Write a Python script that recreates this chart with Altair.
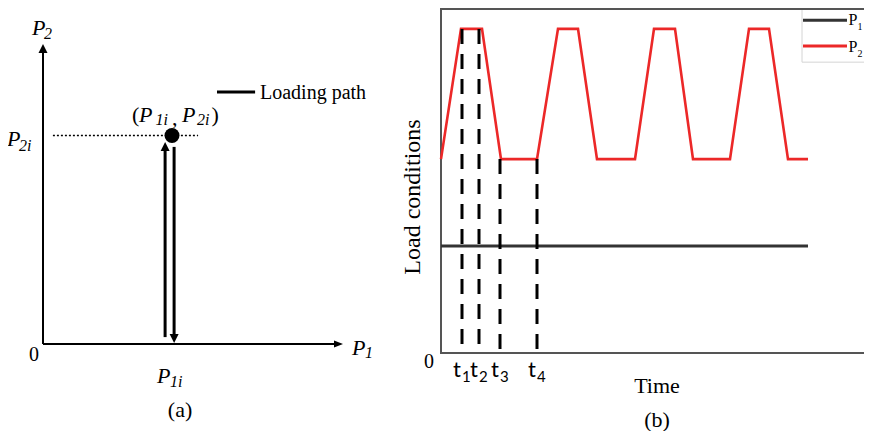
import altair as alt
import pandas as pd

# ---------------- panel (a): loading path in the P1-P2 plane ----------------
AXIS_END = 10.0            # arrow tips of both axes
P1I = 4.30                 # point (P1i, P2i)
P2I = 6.95
UP_X, UP_FROM, UP_TIP = 4.07, 0.23, 6.73      # upward loading arrow
DOWN_X, DOWN_FROM, DOWN_TIP = 4.37, 6.57, 0.03  # downward unloading arrow
GUIDE_FROM, GUIDE_TO = 0.33, 5.17              # dotted guide at P2i
LEG_A_FROM, LEG_A_TO, LEG_A_Y = 5.80, 7.07, 8.40

# ---------------- panel (b): load conditions over time ----------------
T_P2 = [0, 2.0, 4.1, 6.0, 9.6, 11.7, 13.7, 15.6, 19.4, 21.3, 23.4, 25.2, 28.9, 30.8, 32.8, 34.7, 36.7]
V_P2 = [5.54, 9.26, 9.26, 5.54, 5.54, 9.26, 9.26, 5.54, 5.54, 9.26, 9.26, 5.54, 5.54, 9.26, 9.26, 5.54, 5.54]
T_P1 = [0, 36.7]
V_P1 = [3.06, 3.06]
T_MARK = [2.1, 3.8, 5.9, 9.6]
T_MARK_TOP = [9.26, 9.26, 5.54, 5.54]
T_NAMES = ["1", "2", "3", "4"]
FRAME_TOP = 9.83
FRAME_RIGHT = 45.0
SERIES = ["P", "P"]
SERIES_SUB = ["1", "2"]
SERIES_COL = ["#333333", "#ec2828"]
LEG_B_FROM, LEG_B_TO = 36.2, 40.6
LEG_B_Y = [9.51, 8.77]
LEG_BOX = [36.1, 45.0, 8.31, 9.83]

W, H = 856, 423
XA_DOM = [-1.1667, 27.367]
YA_DOM = [-2.9, 11.2]
XB_DOM = [-43.3, 42.3]
YB_DOM = [-2.229, 9.857]

SERIF = "Liberation Serif"


def sc(dom):
    return alt.Scale(domain=dom, nice=False, zero=False, padding=0)


def XA(f):
    return alt.X(f, type="quantitative", scale=sc(XA_DOM), axis=None)


def YA(f):
    return alt.Y(f, type="quantitative", scale=sc(YA_DOM), axis=None)


def XB(f):
    return alt.X(f, type="quantitative", scale=sc(XB_DOM), axis=None)


def YB(f):
    return alt.Y(f, type="quantitative", scale=sc(YB_DOM), axis=None)


def text_layer(rows, X, Y, size, style="normal", align="left", font=SERIF,
               angle=None, dx=None, baseline="middle"):
    df = pd.DataFrame(rows, columns=["x", "y", "text"])
    mk = dict(font=font, fontSize=size, fontStyle=style, align=align,
              baseline=baseline, color="black")
    if angle is not None:
        mk["angle"] = angle
    if dx is not None:
        mk["dx"] = dx
    return alt.Chart(df).mark_text(**mk).encode(x=X("x"), y=Y("y"), text="text:N")


def vrule(X, Y, x, y1, y2, width, color="black", dash=None):
    df = pd.DataFrame({"x": [x], "y": [y1], "y2": [y2]})
    mk = dict(color=color, strokeWidth=width)
    if dash:
        mk["strokeDash"] = dash
    return alt.Chart(df).mark_rule(**mk).encode(x=X("x"), y=Y("y"), y2="y2")


def hrule(X, Y, x1, x2, y, width, color="black", dash=None):
    df = pd.DataFrame({"x": [x1], "x2": [x2], "y": [y]})
    mk = dict(color=color, strokeWidth=width)
    if dash:
        mk["strokeDash"] = dash
    return alt.Chart(df).mark_rule(**mk).encode(x=X("x"), x2="x2", y=Y("y"))


def head(X, Y, x, y, path, size=324):
    df = pd.DataFrame({"x": [x], "y": [y]})
    return alt.Chart(df).mark_point(shape=path, filled=True, size=size, color="black",
                                    opacity=1, strokeWidth=0).encode(x=X("x"), y=Y("y"))


UP = "M0,0L0.5,1L-0.5,1Z"
DOWN = "M0,0L0.5,-1L-0.5,-1Z"
RIGHT = "M0,0L-1,-0.4L-1,0.4Z"

layers = []

# ----- panel (a) -----
layers.append(vrule(XA, YA, 0, 0, AXIS_END - 0.17, 2))
layers.append(head(XA, YA, 0, AXIS_END, UP))
layers.append(hrule(XA, YA, 0, AXIS_END - 0.17, 0, 2))
layers.append(head(XA, YA, AXIS_END, 0, RIGHT))
layers.append(hrule(XA, YA, GUIDE_FROM, GUIDE_TO, P2I, 1.6, dash=[2, 2]))
layers.append(vrule(XA, YA, UP_X, UP_FROM, UP_TIP - 0.2, 3))
layers.append(head(XA, YA, UP_X, UP_TIP, UP))
layers.append(vrule(XA, YA, DOWN_X, DOWN_FROM, DOWN_TIP + 0.2, 3))
layers.append(head(XA, YA, DOWN_X, DOWN_TIP, DOWN))
layers.append(
    alt.Chart(pd.DataFrame({"x": [P1I], "y": [P2I]}))
    .mark_point(shape="circle", filled=True, size=225, color="black", opacity=1)
    .encode(x=XA("x"), y=YA("y"))
)
layers.append(hrule(XA, YA, LEG_A_FROM, LEG_A_TO, LEG_A_Y, 3))

layers.append(text_layer([
    [-0.367, 10.52, "P"], [-1.2, 6.82, "P"], [10.3, -0.13, "P"], [3.8, -1.05, "P"],
    [3.2, 7.633, "P"], [4.633, 7.633, "P"],
], XA, YA, 22, style="italic"))
layers.append(text_layer([
    [0.033, 10.33, "2"], [-0.8, 6.6, "2i"], [10.73, -0.3, "1"], [4.233, -1.267, "1i"],
    [3.75, 7.467, "1i"], [5.13, 7.467, "2i"],
], XA, YA, 16, style="italic"))
layers.append(text_layer([
    [2.967, 7.633, "("], [4.3, 7.55, ","], [5.62, 7.633, ")"],
], XA, YA, 22))
layers.append(text_layer([[-0.3, -0.367, "0"]], XA, YA, 20, align="center"))
layers.append(text_layer([[4.567, -2.2, "(a)"]], XA, YA, 22, align="center"))
layers.append(text_layer([[7.233, 8.367, "Loading path"]], XA, YA, 20))

# ----- panel (b) -----
layers.append(
    alt.Chart(pd.DataFrame({"x": [LEG_BOX[0]], "x2": [LEG_BOX[1]], "y": [LEG_BOX[2]], "y2": [LEG_BOX[3]]}))
    .mark_rect(color="white", stroke="#d4d4d4", strokeWidth=1)
    .encode(x=XB("x"), x2="x2", y=YB("y"), y2="y2")
)
layers.append(
    alt.Chart(pd.DataFrame({"x": [0], "x2": [FRAME_RIGHT], "y": [0], "y2": [FRAME_TOP]}))
    .mark_rect(fillOpacity=0, stroke="#555555", strokeWidth=2)
    .encode(x=XB("x"), x2="x2", y=YB("y"), y2="y2")
)
layers.append(
    alt.Chart(pd.DataFrame({"t": T_P1, "v": V_P1}))
    .mark_line(color=SERIES_COL[0], strokeWidth=3)
    .encode(x=XB("t"), y=YB("v"))
)
layers.append(
    alt.Chart(pd.DataFrame({"t": T_P2, "v": V_P2, "i": list(range(len(T_P2)))}))
    .mark_line(color=SERIES_COL[1], strokeWidth=2.6)
    .encode(x=XB("t"), y=YB("v"), order="i:Q")
)
layers.append(
    alt.Chart(pd.DataFrame({"t": T_MARK, "v0": [0] * 4, "v1": T_MARK_TOP}))
    .mark_rule(color="black", strokeWidth=3, strokeDash=[15, 10])
    .encode(x=XB("t"), y=YB("v1"), y2="v0")
)
for k in range(2):
    layers.append(hrule(XB, YB, LEG_B_FROM, LEG_B_TO, LEG_B_Y[k], 3, color=SERIES_COL[k]))
layers.append(text_layer([[40.75, LEG_B_Y[0] - 0.01, SERIES[0]], [40.75, LEG_B_Y[1] - 0.04, SERIES[1]]],
                         XB, YB, 16))
layers.append(text_layer([[41.65, LEG_B_Y[0] - 0.2, SERIES_SUB[0]], [41.65, LEG_B_Y[1] - 0.22, SERIES_SUB[1]]],
                         XB, YB, 10))
layers.append(text_layer([[-2.8, 4.457, "Load conditions"]], XB, YB, 24, align="center", angle=270))
layers.append(text_layer([[-1.2, -0.257, "0"]], XB, YB, 20, align="center"))
layers.append(text_layer([[t, -0.486, "t"] for t in T_MARK], XB, YB, 22, align="right",
                         font="Lato", dx=-1))
layers.append(text_layer([[t, -0.70, n] for t, n in zip(T_MARK, T_NAMES)], XB, YB, 15,
                         font="Lato"))
layers.append(text_layer([[21.6, -0.943, "Time"]], XB, YB, 22, align="center"))
layers.append(text_layer([[21.6, -1.914, "(b)"]], XB, YB, 22, align="center"))

chart = (
    alt.layer(*layers)
    .resolve_scale(x="independent", y="independent")
    .properties(width=W, height=H, autosize=alt.AutoSizeParams(type="none"), padding=0)
    .configure_view(stroke=None)
)

chart.save("out.html", embed_options={"renderer": "svg", "actions": False})
